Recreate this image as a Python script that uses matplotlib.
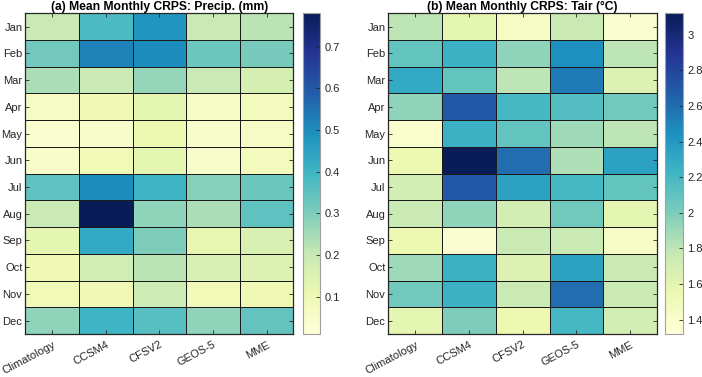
import matplotlib.pyplot as plt
import numpy as np

plt.rcParams['font.family'] = ['Liberation Sans', 'DejaVu Sans']

months = ['Jan', 'Feb', 'Mar', 'Apr', 'May', 'Jun', 'Jul', 'Aug', 'Sep', 'Oct', 'Nov', 'Dec']
models = ['Climatology', 'CCSM4', 'CFSV2', 'GEOS-5', 'MME']

# CRPS precipitation (mm), rows = months, cols = models
precip = [
    [0.20, 0.38, 0.48, 0.20, 0.22],
    [0.32, 0.52, 0.50, 0.33, 0.31],
    [0.24, 0.20, 0.27, 0.20, 0.17],
    [0.06, 0.10, 0.13, 0.06, 0.08],
    [0.04, 0.05, 0.11, 0.05, 0.06],
    [0.05, 0.09, 0.13, 0.05, 0.08],
    [0.35, 0.50, 0.40, 0.29, 0.33],
    [0.20, 0.78, 0.28, 0.24, 0.35],
    [0.13, 0.43, 0.30, 0.12, 0.16],
    [0.10, 0.18, 0.22, 0.16, 0.15],
    [0.09, 0.10, 0.19, 0.09, 0.10],
    [0.28, 0.40, 0.36, 0.28, 0.34],
]

# CRPS air temperature (degC)
tair = [
    [1.80, 1.60, 1.45, 1.75, 1.38],
    [2.10, 2.25, 1.95, 2.45, 1.80],
    [2.30, 2.10, 1.80, 2.55, 1.65],
    [1.95, 2.70, 2.20, 2.15, 2.05],
    [1.40, 2.25, 2.10, 1.90, 1.80],
    [1.55, 3.12, 2.60, 1.85, 2.35],
    [1.70, 2.70, 2.35, 2.20, 2.10],
    [1.75, 1.95, 1.70, 2.05, 1.60],
    [1.55, 1.38, 1.75, 1.75, 1.42],
    [1.90, 2.25, 1.65, 2.35, 1.75],
    [2.05, 2.25, 1.75, 2.60, 1.75],
    [1.60, 2.00, 1.55, 2.20, 1.70],
]

fig = plt.figure(figsize=(7.02, 3.77), dpi=100)


def draw_panel(ax_rect, cb_rect, data, title, vmin, vmax, cticks):
    ax = fig.add_axes(ax_rect)
    cax = fig.add_axes(cb_rect)
    arr = np.array(data)
    mesh = ax.pcolormesh(arr, cmap='YlGnBu', vmin=vmin, vmax=vmax,
                         edgecolors='#1a1a1a', linewidth=0.65)
    ax.set_xlim(0, len(models))
    ax.set_ylim(len(months), 0)
    ax.set_xticks(np.arange(len(models)) + 0.5)
    ax.set_xticklabels(models, rotation=28, ha='right', rotation_mode='anchor')
    ax.set_yticks(np.arange(len(months)) + 0.5)
    ax.set_yticklabels(months)
    ax.tick_params(direction='in', length=3, top=True, right=True, pad=2,
                   labelsize=8, colors='#262626', width=0.6)
    ax.tick_params(axis='x', pad=4)
    for s in ax.spines.values():
        s.set_color('#262626')
        s.set_linewidth(0.9)
    ax.set_title(title, fontsize=8.7, fontweight='bold', pad=2)

    cb = fig.colorbar(mesh, cax=cax, ticks=cticks)
    cb.outline.set_edgecolor('#a0a0a0')
    cb.outline.set_linewidth(0.8)
    cax.tick_params(direction='in', length=3, labelsize=8, colors='#262626',
                    width=0.6, pad=3)
    cb.ax.set_yticklabels([f'{t:g}' for t in cticks])
    return ax


draw_panel([0.036, 0.114, 0.382, 0.851], [0.432, 0.114, 0.024, 0.851],
           precip, '(a) Mean Monthly CRPS: Precip. (mm)', 0.011, 0.78,
           [0.1, 0.2, 0.3, 0.4, 0.5, 0.6, 0.7])
draw_panel([0.553, 0.114, 0.383, 0.851], [0.947, 0.114, 0.026, 0.851],
           tair, '(b) Mean Monthly CRPS: Tair (°C)', 1.32, 3.12,
           [1.4, 1.6, 1.8, 2.0, 2.2, 2.4, 2.6, 2.8, 3.0])

plt.savefig('out.png', dpi=100)
